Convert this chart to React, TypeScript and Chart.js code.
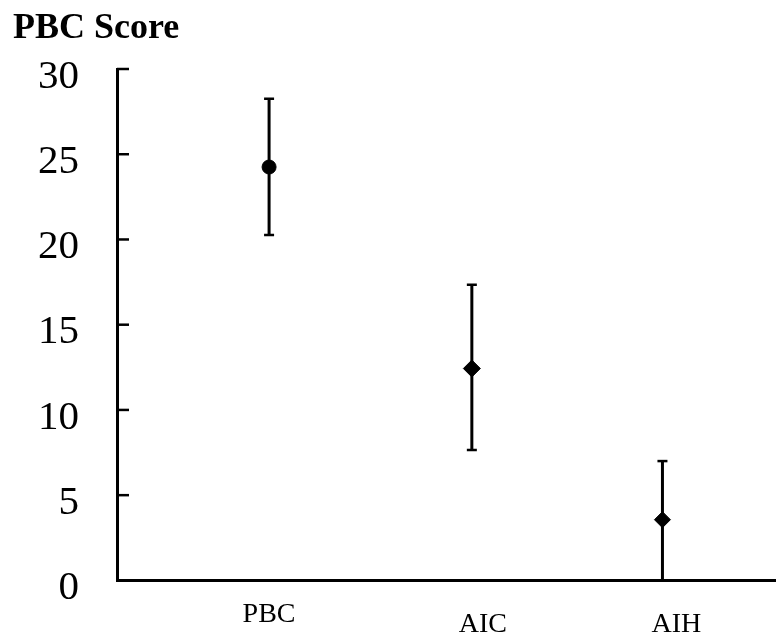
import React, { useEffect, useRef } from "react";
import { Chart, registerables } from "chart.js";

Chart.register(...registerables);

// ---- data ----
const categories = ["PBC", "AIC", "AIH"];
const categoryPositions = [1, 2, 2.94];
const means = [24.25, 12.43, 3.56];
const upperBounds = [28.25, 17.34, 7.0];
const lowerBounds = [20.26, 7.65, 0];
const yTickStep = 5;
const yMin = 0;
const yMax = 30;
const yTitle = "PBC Score";

// ---- styles ----
const pointStyles = ["circle", "rectRot", "rectRot"];
const pointRadii = [7, 8.5, 8];
const labelShiftX = [0, 11, 14];
const labelY = [615, 625, 625];
const SERIF = '"Liberation Serif", "Times New Roman", serif';

const decorPlugin = {
  id: "decor",
  beforeDatasetsDraw(chart: any) {
    const { ctx } = chart;
    const xs = chart.scales.x;
    const ys = chart.scales.y;
    ctx.save();
    ctx.strokeStyle = "#000";
    for (let i = 0; i < categories.length; i++) {
      const x = xs.getPixelForValue(categoryPositions[i]);
      const yt = ys.getPixelForValue(upperBounds[i]);
      const yb = ys.getPixelForValue(lowerBounds[i]);
      ctx.lineWidth = 3;
      ctx.beginPath();
      ctx.moveTo(x, yt);
      ctx.lineTo(x, yb);
      ctx.stroke();
      ctx.lineWidth = 2.5;
      ctx.beginPath();
      ctx.moveTo(x - 5, yt);
      ctx.lineTo(x + 5, yt);
      if (lowerBounds[i] > yMin) {
        ctx.moveTo(x - 5, yb);
        ctx.lineTo(x + 5, yb);
      }
      ctx.stroke();
    }
    ctx.restore();
  },
  afterDraw(chart: any) {
    const { ctx } = chart;
    const xs = chart.scales.x;
    const ys = chart.scales.y;
    ctx.save();
    // inward ticks on the y axis
    ctx.strokeStyle = "#000";
    ctx.lineWidth = 2.5;
    const left = chart.chartArea.left;
    ys.ticks.forEach((t: any) => {
      if (t.value <= yMin) return;
      const y = ys.getPixelForValue(t.value);
      ctx.beginPath();
      ctx.moveTo(left, y);
      ctx.lineTo(left + 12, y);
      ctx.stroke();
    });
    // axis title
    ctx.fillStyle = "#000";
    ctx.font = `bold 36px ${SERIF}`;
    ctx.textAlign = "left";
    ctx.textBaseline = "alphabetic";
    ctx.fillText(yTitle, 13, 38);
    // category labels
    ctx.font = `28px ${SERIF}`;
    ctx.textAlign = "center";
    ctx.textBaseline = "middle";
    for (let i = 0; i < categories.length; i++) {
      const x = xs.getPixelForValue(categoryPositions[i]) + labelShiftX[i];
      ctx.fillText(categories[i], x, labelY[i]);
    }
    ctx.restore();
  },
};

export default function App() {
  const ref = useRef<HTMLCanvasElement | null>(null);
  useEffect(() => {
    if (!ref.current) return;
    const chart = new Chart(ref.current, {
      type: "scatter",
      data: {
        datasets: [
          {
            data: categoryPositions.map((x, i) => ({ x, y: means[i] })),
            pointStyle: pointStyles as any,
            pointRadius: pointRadii,
            backgroundColor: "#000",
            borderColor: "#000",
            borderWidth: 1,
            clip: false as any,
          },
        ],
      },
      options: {
        responsive: false,
        animation: false,
        layout: { autoPadding: false, padding: { top: 69, bottom: 60, left: 0, right: 0 } },
        plugins: {
          legend: { display: false },
          tooltip: { enabled: false },
          title: { display: false },
        },
        scales: {
          x: {
            type: "linear",
            min: 0.25,
            max: 3.5,
            ticks: { display: false },
            grid: { drawOnChartArea: false, drawTicks: false },
            border: { display: true, width: 3, color: "#000" },
          },
          y: {
            min: yMin,
            max: yMax,
            ticks: {
              stepSize: yTickStep,
              color: "#000",
              font: { family: SERIF, size: 41 },
              padding: 38,
              labelOffset: 8,
            },
            grid: { drawOnChartArea: false, drawTicks: false },
            border: { display: true, width: 3, color: "#000" },
            afterFit(scale: any) {
              scale.width = 117;
            },
          },
        },
      },
      plugins: [decorPlugin],
    });
    return () => chart.destroy();
  }, []);
  return (
    <div style={{ position: "absolute", left: 0, top: 0, width: 776, height: 643, background: "#fff" }}>
      <canvas ref={ref} width={776} height={643} />
    </div>
  );
}
